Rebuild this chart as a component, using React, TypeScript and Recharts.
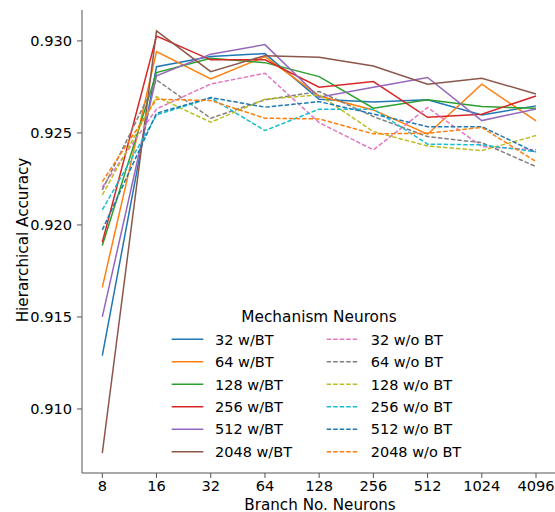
import React from 'react';
import { LineChart, Line, XAxis, YAxis } from 'recharts';

const categories = ['8', '16', '32', '64', '128', '256', '512', '1024', '4096'];

const s32wBT = [0.9129, 0.9286, 0.92915, 0.92931, 0.92683, 0.92668, 0.9268, 0.92598, 0.92647];
const s64wBT = [0.91661, 0.92942, 0.92793, 0.92915, 0.92701, 0.92625, 0.92493, 0.92765, 0.92565];
const s128wBT = [0.91888, 0.92828, 0.92906, 0.92882, 0.92806, 0.92634, 0.9268, 0.92643, 0.92634];
const s256wBT = [0.91906, 0.93027, 0.92897, 0.92897, 0.92748, 0.92779, 0.92585, 0.92602, 0.92701];
const s512wBT = [0.915, 0.9281, 0.92928, 0.9298, 0.92694, 0.92748, 0.92801, 0.92567, 0.9263];
const s2048wBT = [0.9076, 0.93054, 0.92833, 0.9292, 0.92911, 0.92864, 0.92765, 0.92797, 0.92712];

const s32woBT = [0.92205, 0.9263, 0.92766, 0.92824, 0.92556, 0.92408, 0.92638, 0.92426, 0.92408];
const s64woBT = [0.9219, 0.92788, 0.9258, 0.9268, 0.92725, 0.92589, 0.9248, 0.92447, 0.92317];
const s128woBT = [0.92163, 0.92697, 0.92558, 0.92683, 0.92707, 0.92507, 0.92429, 0.92404, 0.92486];
const s256woBT = [0.92082, 0.92598, 0.9269, 0.92513, 0.92629, 0.92629, 0.92439, 0.92435, 0.92398];
const s512woBT = [0.91973, 0.92607, 0.92692, 0.9264, 0.9267, 0.92603, 0.92534, 0.92534, 0.92393];
const s2048woBT = [0.92235, 0.92683, 0.92676, 0.9258, 0.92576, 0.92495, 0.92498, 0.9253, 0.92344];

const yTicks = [0.91, 0.915, 0.92, 0.925, 0.93];

const seriesWith = [
  { key: '32 w/BT', values: s32wBT, color: '#1f77b4' },
  { key: '64 w/BT', values: s64wBT, color: '#ff7f0e' },
  { key: '128 w/BT', values: s128wBT, color: '#2ca02c' },
  { key: '256 w/BT', values: s256wBT, color: '#d62728' },
  { key: '512 w/BT', values: s512wBT, color: '#9467bd' },
  { key: '2048 w/BT', values: s2048wBT, color: '#8c564b' },
];
const seriesWithout = [
  { key: '32 w/o BT', values: s32woBT, color: '#e377c2' },
  { key: '64 w/o BT', values: s64woBT, color: '#7f7f7f' },
  { key: '128 w/o BT', values: s128woBT, color: '#bcbd22' },
  { key: '256 w/o BT', values: s256woBT, color: '#17becf' },
  { key: '512 w/o BT', values: s512woBT, color: '#1f77b4' },
  { key: '2048 w/o BT', values: s2048woBT, color: '#ff7f0e' },
];

const data = categories.map((c, i) => {
  const row: Record<string, any> = { n: c };
  [...seriesWith, ...seriesWithout].forEach((s) => {
    row[s.key] = s.values[i];
  });
  return row;
});

const FONT = '"DejaVu Sans", sans-serif';
const TICK_FS = 14.6;
const LABEL_FS = 15.2;
const LEG_FS = 14.5;
const TITLE_FS = 15.3;
const AXIS = '#555';
const DASH = '4.5 2';

const YLabel = (props: any) => {
  const vb = props.viewBox || {};
  const cx = 28.3;
  const cy = vb.y + vb.height / 2 - 1.5;
  return (
    <text
      x={cx}
      y={cy}
      transform={`rotate(-90, ${cx}, ${cy})`}
      textAnchor="middle"
      fontSize={LABEL_FS}
      fontFamily={FONT}
      fill="#000"
    >
      Hierarchical Accuracy
    </text>
  );
};

const LegendBox = () => {
  const rowY = (i: number) => 39.3 + i * 22.47;
  return (
    <svg
      width={330}
      height={170}
      style={{ position: 'absolute', left: 160, top: 300, overflow: 'visible' }}
    >
      <text x={159} y={21.5} textAnchor="middle" fontSize={TITLE_FS} fontFamily={FONT} fill="#000">
        Mechanism Neurons
      </text>
      {seriesWith.map((s, i) => (
        <g key={s.key}>
          <line x1={11.7} x2={43.3} y1={rowY(i)} y2={rowY(i)} stroke={s.color} strokeWidth={1.5} />
          <text x={55} y={rowY(i) + 5.3} fontSize={LEG_FS} fontFamily={FONT} fill="#000">
            {s.key}
          </text>
        </g>
      ))}
      {seriesWithout.map((s, i) => (
        <g key={s.key}>
          <line
            x1={166.7}
            x2={198.3}
            y1={rowY(i)}
            y2={rowY(i)}
            stroke={s.color}
            strokeWidth={1.5}
            strokeDasharray={DASH}
          />
          <text x={210.7} y={rowY(i) + 5.3} fontSize={LEG_FS} fontFamily={FONT} fill="#000">
            {s.key}
          </text>
        </g>
      ))}
    </svg>
  );
};

export default function App() {
  return (
    <div
      style={{
        position: 'absolute',
        left: 0,
        top: 0,
        width: 555,
        height: 512,
        overflow: 'hidden',
        background: '#fff',
      }}
    >
      <LineChart
        width={560}
        height={512}
        data={data}
        margin={{ top: 10, right: 2, bottom: 0, left: 0 }}
      >
        <XAxis
          dataKey="n"
          type="category"
          padding={{ left: 20.3, right: 22 }}
          height={39}
          tickSize={5}
          tickMargin={2.5}
          tick={{ fontSize: TICK_FS, fontFamily: FONT, fill: '#000' }}
          stroke={AXIS}
          axisLine={{ stroke: AXIS }}
          tickLine={{ stroke: AXIS }}
          interval={0}
          label={{
            value: 'Branch No. Neurons',
            position: 'insideBottom',
            offset: 2.5,
            fontSize: LABEL_FS,
            fontFamily: FONT,
            fill: '#000',
          }}
        />
        <XAxis
          xAxisId="top"
          dataKey="n"
          orientation="top"
          height={0}
          tick={false}
          tickLine={false}
          axisLine={{ stroke: AXIS }}
        />
        <YAxis
          type="number"
          domain={[0.90652, 0.93168]}
          ticks={yTicks}
          allowDataOverflow
          width={82}
          tickSize={5}
          tickMargin={5}
          tickFormatter={(v: number) => v.toFixed(3)}
          tick={{ fontSize: TICK_FS, fontFamily: FONT, fill: '#000' }}
          axisLine={{ stroke: AXIS }}
          tickLine={{ stroke: AXIS }}
          label={<YLabel />}
        />
        <YAxis
          yAxisId="right"
          orientation="right"
          width={0}
          tick={false}
          tickLine={false}
          axisLine={{ stroke: AXIS }}
        />
        {seriesWith.map((s) => (
          <Line
            key={s.key}
            dataKey={s.key}
            stroke={s.color}
            strokeWidth={1.5}
            dot={false}
            activeDot={false}
            isAnimationActive={false}
          />
        ))}
        {seriesWithout.map((s) => (
          <Line
            key={s.key}
            dataKey={s.key}
            stroke={s.color}
            strokeWidth={1.5}
            strokeDasharray={DASH}
            dot={false}
            activeDot={false}
            isAnimationActive={false}
          />
        ))}
      </LineChart>
      <LegendBox />
    </div>
  );
}
